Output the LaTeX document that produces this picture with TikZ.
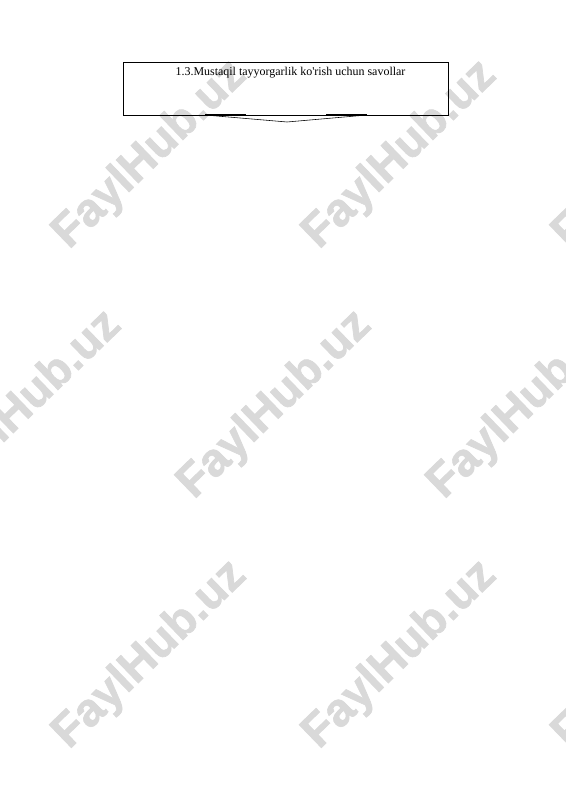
\documentclass[tikz,border=0pt]{standalone}
\usepackage{fontspec}
\setmainfont{Liberation Serif}
\newfontfamily\titlefont{Liberation Serif}
\newfontfamily\wmfont[BoldFeatures={FakeBold=1.5}]{Liberation Sans}
\begin{document}
\begin{tikzpicture}[x=1.0531pt,y=-1.0531pt,
  titlebox/.style={draw=black,line width=0.8pt,minimum width=325*1.0531pt,minimum height=53*1.0531pt,inner sep=0pt},
  ttext/.style={font=\titlefont\fontsize{12.6}{14}\selectfont},
  wm/.style={font=\wmfont\bfseries\fontsize{49}{50}\selectfont,text=black!15,rotate=44}]
\useasboundingbox (0,0) rectangle (565,800);
\fill[white] (0,0) rectangle (565,800);
\foreach \i/\x/\y in {a/150/155,b/400/155,c/650/155,d/25/405,e/275/405,f/525/405,g/150/655,h/400/655,k/650/655}
  \node[wm] (wm\i) at (\x,\y) {FaylHub.uz};
\node[titlebox] (box) at (285.5,88.5) {};
\node[ttext] (title) at (290.5,73) {1.3.Mustaqil tayyorgarlik ko'rish uchun savollar};
\coordinate (l1) at (205,115);
\coordinate (l2) at (246,115);
\coordinate (tip) at (287,122);
\coordinate (r1) at (326,115);
\coordinate (r2) at (367,115);
\draw[line width=1.6pt] (l1) -- (l2);
\draw[line width=1.6pt] (r1) -- (r2);
\draw[line width=0.6pt] (l1) -- (tip) -- (r2);
\end{tikzpicture}
\end{document}
